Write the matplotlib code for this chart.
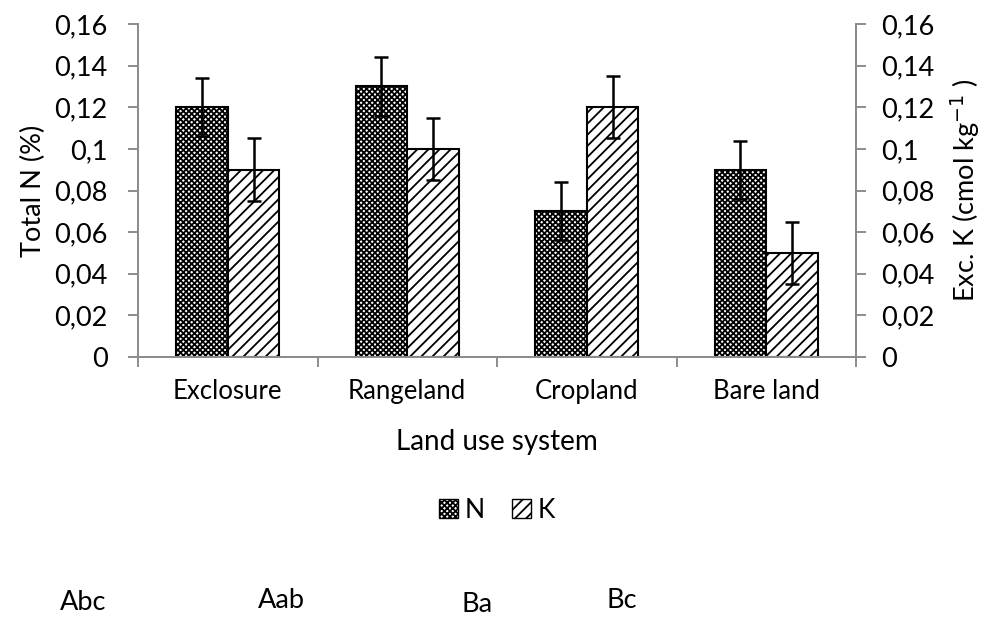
import matplotlib
matplotlib.use("Agg")
import matplotlib.pyplot as plt
from matplotlib.ticker import FuncFormatter, FixedLocator
from matplotlib.patches import Patch
import numpy as np

plt.rcParams['font.family'] = ['Lato', 'DejaVu Sans']
plt.rcParams['hatch.linewidth'] = 1.3

land_use = ["Exclosure", "Rangeland", "Cropland", "Bare land"]
total_n = [0.12, 0.13, 0.07, 0.09]
total_n_err = [0.014, 0.014, 0.014, 0.014]
exc_k = [0.09, 0.10, 0.12, 0.05]
exc_k_err = [0.015, 0.015, 0.015, 0.015]
letters = ["Abc", "Aab", "Ba", "Bc"]
letter_x = [83, 281, 477, 622]
letter_y = [603, 600, 605, 601]
yticks = [0, 0.02, 0.04, 0.06, 0.08, 0.10, 0.12, 0.14, 0.16]

N_HATCH = "xxxxxx"
K_HATCH = "///"
grey = "#8c8c8c"

fig = plt.figure(figsize=(9.94, 6.17), dpi=100)
ax = fig.add_axes([138/994, 1-357/617, (856-138)/994, (357-24)/617])
ax2 = ax.twinx()

x = np.arange(len(land_use)) + 0.5
w = 0.287
ax.bar(x - w/2, total_n, width=w, color="white", edgecolor="black",
       hatch=N_HATCH, linewidth=1.5, zorder=2)
ax.errorbar(x - w/2, total_n, yerr=total_n_err, fmt="none", ecolor="black",
            elinewidth=1.8, capsize=5, capthick=1.8, zorder=3)
ax2.bar(x + w/2, exc_k, width=w, color="white", edgecolor="black",
        hatch=K_HATCH, linewidth=1.5, zorder=2)
ax2.errorbar(x + w/2, exc_k, yerr=exc_k_err, fmt="none", ecolor="black",
             elinewidth=1.8, capsize=5, capthick=1.8, zorder=3)

fmt = FuncFormatter(lambda v, p: f"{v:g}".replace(".", ","))
for a in (ax, ax2):
    a.set_ylim(0, 0.16)
    a.set_xlim(0, len(land_use))
    a.yaxis.set_major_locator(FixedLocator(yticks))
    a.yaxis.set_major_formatter(fmt)
    a.spines['top'].set_visible(False)
    for s in ('left', 'right', 'bottom'):
        a.spines[s].set_color(grey)
        a.spines[s].set_linewidth(1.4)
    a.tick_params(axis='y', colors=grey, labelcolor="black", labelsize=19.5,
                  length=7, width=1.4, direction='out')
ax.tick_params(axis='y', pad=15)
ax2.tick_params(axis='y', pad=11)

ax.set_xticks(np.arange(len(land_use) + 1))
ax.set_xticklabels([])
ax.set_xticks(x, minor=True)
ax.set_xticklabels(land_use, minor=True, fontsize=18.5)
ax.tick_params(axis='x', which='major', colors=grey, length=7, width=1.4)
ax.tick_params(axis='x', which='minor', length=0, pad=16, labelcolor="black")

ax.set_ylabel("Total N (%)", fontsize=19.5, labelpad=6)
ax2.set_ylabel("Exc. K (cmol kg$^{-1}$ )", fontsize=19.5, labelpad=10)
ax.set_xlabel("Land use system", fontsize=20, labelpad=18)

handles = [Patch(facecolor="white", edgecolor="black", hatch=N_HATCH, label="N"),
           Patch(facecolor="white", edgecolor="black", hatch=K_HATCH, label="K")]
fig.legend(handles=handles, loc="center", bbox_to_anchor=(497/994, 1-510/617),
           ncol=2, frameon=False, fontsize=19, handlelength=0.75, handleheight=0.75,
           handletextpad=0.25, columnspacing=1.0)

for t, lx, ly in zip(letters, letter_x, letter_y):
    fig.text(lx/994, 1-ly/617, t, ha="center", va="center", fontsize=19.5)

fig.savefig("out.png", dpi=100)
